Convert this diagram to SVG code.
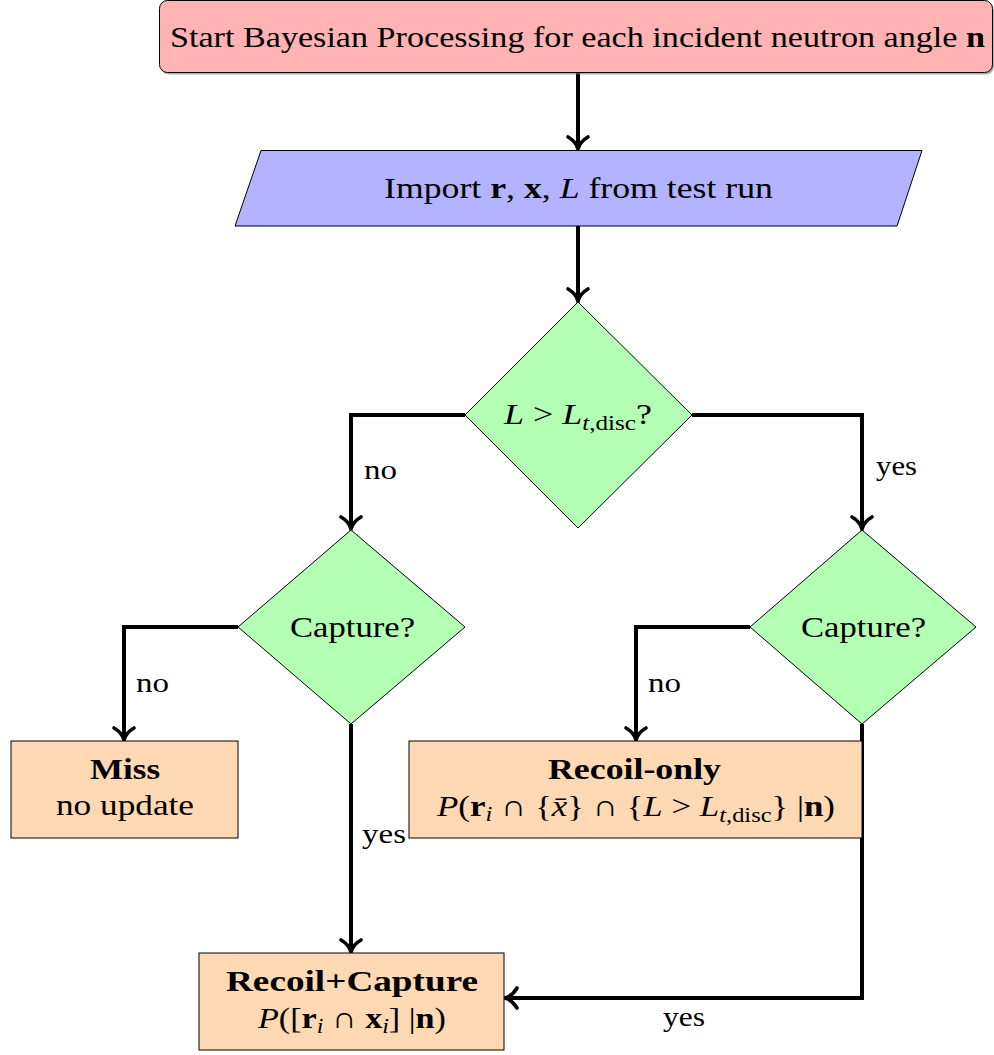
<svg xmlns="http://www.w3.org/2000/svg" width="994" height="1055" viewBox="0 0 994 1055">
<style>
  .t { font-family: "Liberation Serif", "Times New Roman", serif; font-size: 30px; fill: #000; }
  .lbl { font-family: "Liberation Serif", "Times New Roman", serif; font-size: 28px; fill: #000; }
  .b { font-weight: bold; }
  .i { font-style: italic; }
  .node { stroke: #000; stroke-width: 1; }
  .start { fill: #ffb3b3; }
  .io { fill: #b3b3ff; }
  .dec { fill: #b3ffb3; }
  .proc { fill: #ffd9b3; }
  .edge { fill: none; stroke: #000; stroke-width: 4; stroke-linejoin: miter; marker-end: url(#to); }
</style>
<defs>
  <marker id="to" markerUnits="userSpaceOnUse" viewBox="-14 -12 18 24" refX="0" refY="0" markerWidth="18" markerHeight="24" orient="auto" overflow="visible">
    <path d="M -12 -10 C -8 -3 -3 -0.8 0 0 C -3 0.8 -8 3 -12 10" fill="none" stroke="#000" stroke-width="3.6" stroke-linecap="round"/>
  </marker>
</defs>
<rect width="994" height="1055" fill="#fff"/>

<g id="connectors">
  <path class="edge" d="M578 73 L578 149"/>
  <path class="edge" d="M578 226 L578 301"/>
  <path class="edge" d="M465 415 L351 415 L351 529"/>
  <path class="edge" d="M692 415 L862 415 L862 529"/>
  <path class="edge" d="M238 627 L124 627 L124 740"/>
  <path class="edge" d="M351 724 L351 952"/>
  <path class="edge" d="M750 627 L636 627 L636 740"/>
  <path class="edge" d="M862 724 L862 998 L505 998"/>
  <text class="lbl" x="364" y="479" textLength="33" lengthAdjust="spacingAndGlyphs">no</text>
  <text class="lbl" x="876" y="475" textLength="41" lengthAdjust="spacingAndGlyphs">yes</text>
  <text class="lbl" x="136" y="692" textLength="33" lengthAdjust="spacingAndGlyphs">no</text>
  <text class="lbl" x="648" y="692" textLength="33" lengthAdjust="spacingAndGlyphs">no</text>
  <text class="lbl" x="362" y="843" textLength="44" lengthAdjust="spacingAndGlyphs">yes</text>
  <text class="lbl" x="663" y="1026" textLength="42" lengthAdjust="spacingAndGlyphs">yes</text>
</g>

<g id="start">
  <rect x="161" y="2.5" width="833" height="72" rx="8" fill="#777" opacity="0.6"/>
  <rect class="node start" x="159.5" y="0.5" width="833" height="72" rx="8"/>
  <text class="t" x="170" y="47" textLength="815" lengthAdjust="spacingAndGlyphs">Start Bayesian Processing for each incident neutron angle <tspan class="b">n</tspan></text>
</g>

<g id="import">
  <polygon class="node io" points="261,150.5 922,150.5 897,226 235,226"/>
  <text class="t" x="384" y="198" textLength="389" lengthAdjust="spacingAndGlyphs">Import <tspan class="b">r</tspan>, <tspan class="b">x</tspan>, <tspan class="i">L</tspan> from test run</text>
</g>

<g id="decision-threshold">
  <polygon class="node dec" points="578,302 692,415 578,528 465,415"/>
  <text class="t" x="504" y="424" textLength="148" lengthAdjust="spacingAndGlyphs"><tspan class="i">L</tspan> &gt; <tspan class="i">L</tspan><tspan font-size="21" dy="6"><tspan class="i">t</tspan>,disc</tspan><tspan dy="-6">?</tspan></text>
</g>

<g id="capture-left">
  <polygon class="node dec" points="351,530 465,627 351,724 238,627"/>
  <text class="t" x="290" y="637" textLength="125" lengthAdjust="spacingAndGlyphs">Capture?</text>
</g>

<g id="capture-right">
  <polygon class="node dec" points="862,530 976,627 862,724 750,627"/>
  <text class="t" x="801" y="637" textLength="125" lengthAdjust="spacingAndGlyphs">Capture?</text>
</g>

<g id="miss">
  <rect class="node proc" x="11" y="741" width="227" height="97"/>
  <text class="t b" x="90" y="779" textLength="70" lengthAdjust="spacingAndGlyphs">Miss</text>
  <text class="t" x="56" y="815" textLength="138" lengthAdjust="spacingAndGlyphs">no update</text>
</g>

<g id="recoil-only">
  <rect class="node proc" x="409" y="741" width="453" height="97"/>
  <text class="t b" x="548" y="779" textLength="173" lengthAdjust="spacingAndGlyphs">Recoil-only</text>
  <text class="t" x="437" y="816" textLength="398" lengthAdjust="spacingAndGlyphs"><tspan class="i">P</tspan>(<tspan class="b">r</tspan><tspan class="i" font-size="21" dy="5">i</tspan><tspan dy="-5"> ∩ {</tspan><tspan class="i">x̄</tspan>} ∩ {<tspan class="i">L</tspan> &gt; <tspan class="i">L</tspan><tspan font-size="21" dy="6"><tspan class="i">t</tspan>,disc</tspan><tspan dy="-6">} |</tspan><tspan class="b">n</tspan>)</text>
</g>

<g id="recoil-capture">
  <rect class="node proc" x="199" y="953" width="305" height="97"/>
  <text class="t b" x="226" y="991" textLength="252" lengthAdjust="spacingAndGlyphs">Recoil+Capture</text>
  <text class="t" x="258" y="1028" textLength="188" lengthAdjust="spacingAndGlyphs"><tspan class="i">P</tspan>([<tspan class="b">r</tspan><tspan class="i" font-size="21" dy="5">i</tspan><tspan dy="-5"> ∩ </tspan><tspan class="b">x</tspan><tspan class="i" font-size="21" dy="5">i</tspan><tspan dy="-5">] |</tspan><tspan class="b">n</tspan>)</text>
</g>
</svg>
